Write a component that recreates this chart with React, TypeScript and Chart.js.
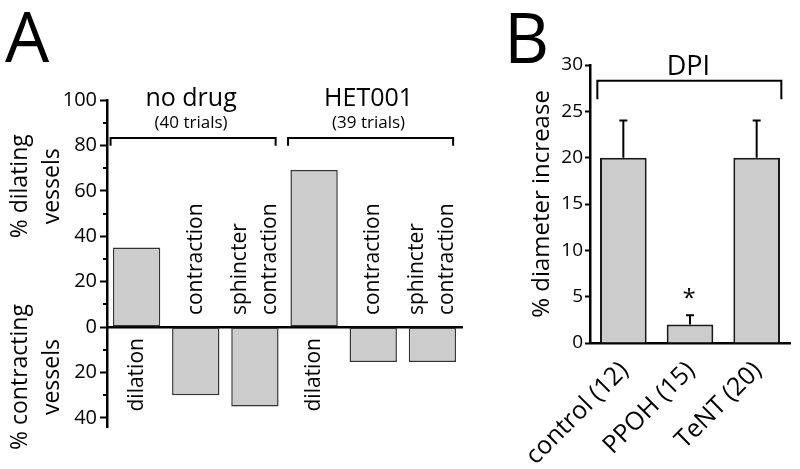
import React, { useEffect, useRef } from 'react';
import { Chart, registerables } from 'chart.js';

Chart.register(...registerables);

const FONT = "'Open Sans', 'DejaVu Sans', sans-serif";

// ---------- Panel A data ----------
const categoriesA = ['dilation', 'contraction', 'sphincter contraction', 'dilation', 'contraction', 'sphincter contraction'];
const valuesA = [35, -30, -35, 69.2, -15.4, -15.4];
const groupNamesA = ['no drug', 'HET001'];
const groupTrialsA = ['(40 trials)', '(39 trials)'];
const groupStartA = [0, 3];
const groupEndA = [2, 5];
const yTitleUpA = ['% dilating', 'vessels'];
const yTitleDownA = ['% contracting', 'vessels'];

// ---------- Panel B data ----------
const categoriesB = ['control (12)', 'PPOH (15)', 'TeNT (20)'];
const meansB = [20, 2, 20];
const errorsB = [4, 1, 4];
const signifB = ['', '*', ''];
const groupNameB = 'DPI';
const yTitleB = '% diameter increase';

const BAR_FILL = '#cccccc';

function drawRotated(ctx: CanvasRenderingContext2D, text: string, x: number, y: number, align: CanvasTextAlign) {
  ctx.save();
  ctx.translate(x, y);
  ctx.rotate(-Math.PI / 2);
  ctx.textAlign = align;
  ctx.textBaseline = 'middle';
  ctx.fillText(text, 0, 0);
  ctx.restore();
}

function drawBracket(ctx: CanvasRenderingContext2D, x1: number, x2: number, y: number, yTip: number) {
  ctx.beginPath();
  ctx.moveTo(x1, yTip);
  ctx.lineTo(x1, y);
  ctx.lineTo(x2, y);
  ctx.lineTo(x2, yTip);
  ctx.stroke();
}

const panelAPlugin = {
  id: 'panelA',
  afterDraw(chart: any) {
    const ctx: CanvasRenderingContext2D = chart.ctx;
    const xs = chart.scales.x;
    const ys = chart.scales.y;
    const area = chart.chartArea;
    const y0 = ys.getPixelForValue(0);
    ctx.save();
    ctx.fillStyle = '#000';
    ctx.strokeStyle = '#000';

    // minor ticks
    ctx.lineWidth = 2;
    for (let v = -30; v <= 90; v += 20) {
      const py = Math.round(ys.getPixelForValue(v));
      ctx.beginPath();
      ctx.moveTo(area.left - 4, py);
      ctx.lineTo(area.left, py);
      ctx.stroke();
    }

    // category labels
    ctx.font = `21px ${FONT}`;
    const catW = xs.getPixelForTick(1) - xs.getPixelForTick(0);
    categoriesA.forEach((cat, i) => {
      const lines = cat.split(' ');
      const cx = xs.getPixelForTick(i);
      const positive = valuesA[i] >= 0;
      lines.forEach((line, j) => {
        const lx = cx + (j - (lines.length - 1) / 2) * 30;
        if (positive) drawRotated(ctx, line, lx, y0 + 11, 'right');
        else drawRotated(ctx, line, lx, y0 - 12, 'left');
      });
    });

    // group brackets and titles
    ctx.lineWidth = 2;
    groupNamesA.forEach((name, g) => {
      const x1 = xs.getPixelForTick(groupStartA[g]) - 0.44 * catW;
      const x2 = xs.getPixelForTick(groupEndA[g]) + 0.35 * catW;
      const by = ys.getPixelForValue(83.3);
      const tip = ys.getPixelForValue(79.8);
      drawBracket(ctx, x1, x2, by, tip);
      const mid = (x1 + x2) / 2;
      ctx.textAlign = 'center';
      ctx.textBaseline = 'alphabetic';
      ctx.font = `25px ${FONT}`;
      ctx.fillText(name, mid - 2, ys.getPixelForValue(97.5));
      ctx.font = `17px ${FONT}`;
      ctx.fillText(groupTrialsA[g], mid - 2, ys.getPixelForValue(87.8));
    });

    // y titles
    ctx.font = `23px ${FONT}`;
    const upY = ys.getPixelForValue(62);
    const downY = ys.getPixelForValue(-22);
    drawRotated(ctx, yTitleUpA[0], area.left - 87, upY, 'center');
    drawRotated(ctx, yTitleUpA[1], area.left - 55, upY, 'center');
    drawRotated(ctx, yTitleDownA[0], area.left - 87, downY, 'center');
    drawRotated(ctx, yTitleDownA[1], area.left - 55, downY, 'center');

    // panel letter
    ctx.font = `70px ${FONT}`;
    ctx.textAlign = 'left';
    ctx.textBaseline = 'alphabetic';
    ctx.fillText('A', 5, 62);
    ctx.restore();
  },
};

const panelBPlugin = {
  id: 'panelB',
  afterDraw(chart: any) {
    const ctx: CanvasRenderingContext2D = chart.ctx;
    const xs = chart.scales.x;
    const ys = chart.scales.y;
    const area = chart.chartArea;
    ctx.save();
    ctx.fillStyle = '#000';
    ctx.strokeStyle = '#000';

    // error bars
    ctx.lineWidth = 2;
    meansB.forEach((m, i) => {
      const cx = xs.getPixelForTick(i);
      const base = ys.getPixelForValue(m);
      const top = ys.getPixelForValue(m + errorsB[i]);
      ctx.beginPath();
      ctx.moveTo(cx, base);
      ctx.lineTo(cx, top);
      ctx.moveTo(cx - 4, top);
      ctx.lineTo(cx + 4, top);
      ctx.stroke();
      if (signifB[i]) {
        ctx.font = `24px ${FONT}`;
        ctx.textAlign = 'center';
        ctx.textBaseline = 'alphabetic';
        ctx.fillText(signifB[i], cx - 1, top - 9);
      }
    });

    // bracket
    const catW = xs.getPixelForTick(1) - xs.getPixelForTick(0);
    const x1 = xs.getPixelForTick(0) - 0.39 * catW;
    const x2 = xs.getPixelForTick(categoriesB.length - 1) + 0.37 * catW;
    drawBracket(ctx, x1, x2, ys.getPixelForValue(28.3), ys.getPixelForValue(26.3));
    ctx.font = `27px ${FONT}`;
    ctx.textAlign = 'center';
    ctx.textBaseline = 'alphabetic';
    ctx.fillText(groupNameB, (x1 + x2) / 2 - 1, ys.getPixelForValue(28.9));

    // y title
    ctx.font = `24px ${FONT}`;
    drawRotated(ctx, yTitleB, area.left - 48, (area.top + area.bottom) / 2, 'center');

    // panel letter
    ctx.font = `70px ${FONT}`;
    ctx.textAlign = 'left';
    ctx.textBaseline = 'alphabetic';
    ctx.fillText('B', 24, 63);
    ctx.restore();
  },
};

export default function App() {
  const refA = useRef<HTMLCanvasElement>(null);
  const refB = useRef<HTMLCanvasElement>(null);

  useEffect(() => {
    document.body.style.margin = '0';
    const chartA = new Chart(refA.current as HTMLCanvasElement, {
      type: 'bar',
      data: {
        labels: categoriesA,
        datasets: [
          {
            data: valuesA,
            backgroundColor: BAR_FILL,
            borderColor: '#333333',
            borderWidth: 1.5,
            borderSkipped: false,
            categoryPercentage: 1,
            barPercentage: 0.8,
          },
        ],
      },
      options: {
        animation: false,
        responsive: false,
        devicePixelRatio: 1,
        layout: { padding: { top: 100, bottom: 42, left: 0, right: 18 } },
        plugins: { legend: { display: false }, tooltip: { enabled: false } },
        scales: {
          x: {
            type: 'category',
            position: { y: 0 } as any,
            z: 1,
            ticks: { display: false },
            grid: { display: false },
            border: { display: true, color: '#000', width: 2.5 },
          },
          y: {
            min: -44,
            max: 100,
            afterFit: (scale: any) => {
              scale.width = 107;
            },
            ticks: {
              stepSize: 20,
              includeBounds: false,
              padding: 3,
              color: '#000',
              font: { family: FONT, size: 20 },
              callback: (v: any) => String(Math.abs(Number(v))),
            },
            grid: { drawOnChartArea: false, drawTicks: true, tickLength: 7, tickWidth: 2, tickColor: '#000' },
            border: { display: true, color: '#000', width: 2.5 },
          },
        },
      },
      plugins: [panelAPlugin],
    } as any);

    const chartB = new Chart(refB.current as HTMLCanvasElement, {
      type: 'bar',
      data: {
        labels: categoriesB,
        datasets: [
          {
            data: meansB,
            backgroundColor: BAR_FILL,
            borderColor: '#1a1a1a',
            borderWidth: 2,
            categoryPercentage: 1,
            barPercentage: 0.7,
          },
        ],
      },
      options: {
        animation: false,
        responsive: false,
        devicePixelRatio: 1,
        layout: { padding: { top: 65, bottom: 0, left: 0, right: 10 } },
        plugins: { legend: { display: false }, tooltip: { enabled: false } },
        scales: {
          x: {
            z: 1,
            afterFit: (scale: any) => {
              scale.height = 126;
            },
            ticks: {
              minRotation: 45,
              maxRotation: 45,
              autoSkip: false,
              padding: 13,
              labelOffset: 1,
              color: '#000',
              font: { family: FONT, size: 25 },
            },
            grid: { display: false, drawTicks: false },
            border: { display: true, color: '#000', width: 2.5 },
          },
          y: {
            min: 0,
            max: 30,
            afterFit: (scale: any) => {
              scale.width = 110;
            },
            ticks: {
              stepSize: 5,
              padding: 2,
              color: '#000',
              font: { family: FONT, size: 19 },
            },
            grid: { drawOnChartArea: false, drawTicks: true, tickLength: 5, tickWidth: 2, tickColor: '#000' },
            border: { display: true, color: '#000', width: 2.5 },
          },
        },
      },
      plugins: [panelBPlugin],
    } as any);

    return () => {
      chartA.destroy();
      chartB.destroy();
    };
  }, []);

  return (
    <div style={{ position: 'absolute', left: 0, top: 0, width: 800, height: 469, background: '#fff' }}>
      <canvas ref={refA} width={480} height={469} style={{ position: 'absolute', left: 0, top: 0 }} />
      <canvas ref={refB} width={320} height={469} style={{ position: 'absolute', left: 480, top: 0 }} />
    </div>
  );
}
